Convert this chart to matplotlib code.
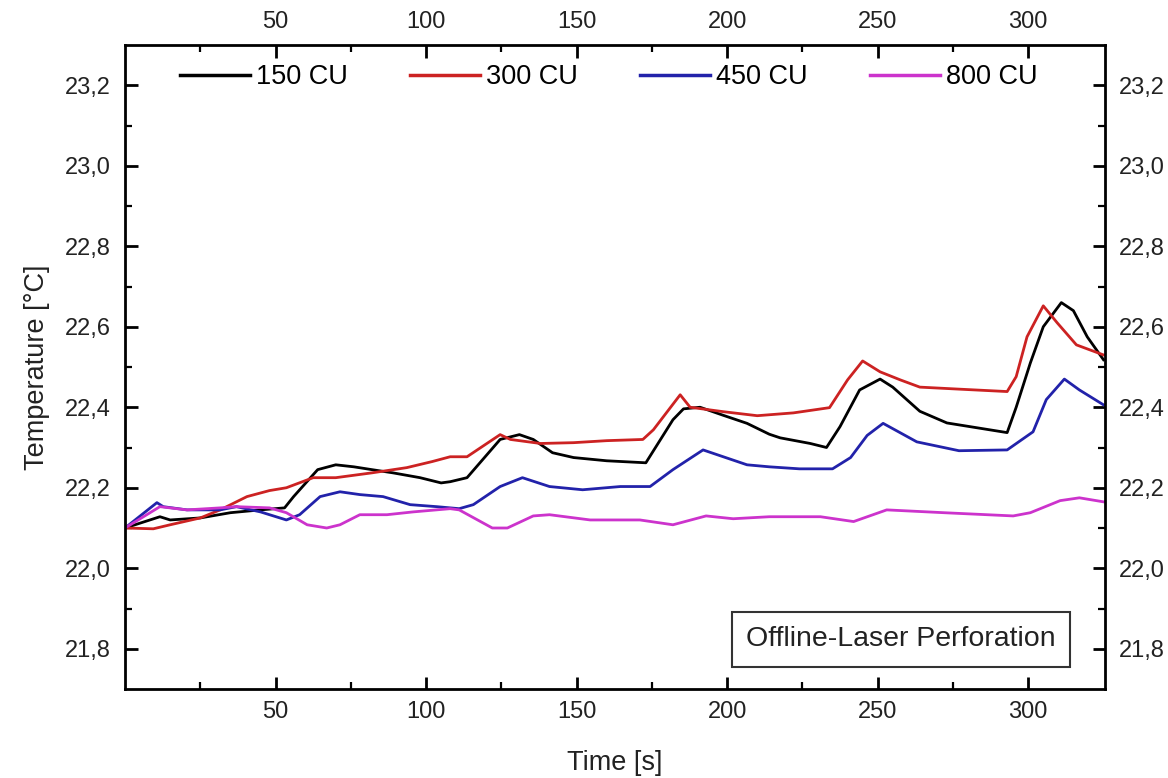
import matplotlib
matplotlib.use("Agg")
import matplotlib.pyplot as plt
from matplotlib.ticker import FixedLocator, FuncFormatter

plt.rcParams['font.family'] = ['Liberation Sans', 'DejaVu Sans']

# ---- data ----
labels = ["150 CU", "300 CU", "450 CU", "800 CU"]
colors = ["#000000", "#cc2222", "#2222aa", "#cc33cc"]

t_150 = [0, 11.6, 15, 25, 35, 45, 53, 56, 64, 70, 76, 82, 89, 98, 105, 108, 113.6,
         124.6, 131, 135.6, 142, 149, 160, 173, 182, 185.5, 191, 198.7, 206.6, 214,
         217.6, 227.6, 233, 237.5, 244, 250.8, 255, 264, 273, 283, 293, 296, 300.7,
         305, 311, 315, 319.6, 325]
T_150 = [22.10, 22.128, 22.12, 22.125, 22.138, 22.145, 22.15, 22.178, 22.245, 22.257,
         22.252, 22.245, 22.237, 22.225, 22.212, 22.215, 22.225, 22.32, 22.332, 22.32,
         22.287, 22.275, 22.267, 22.262, 22.369, 22.396, 22.40, 22.38, 22.36, 22.333,
         22.324, 22.31, 22.30, 22.352, 22.443, 22.47, 22.45, 22.39, 22.361, 22.349,
         22.337, 22.40, 22.51, 22.60, 22.66, 22.64, 22.575, 22.518]

t_300 = [0, 9.4, 15, 25, 31.6, 40.5, 48, 53.6, 62.5, 70, 82, 93.6, 102, 108, 113.6,
         124.6, 128, 138, 149, 160, 172, 175.5, 184.4, 187.7, 198.7, 210, 222, 234,
         240, 245, 250.8, 257.5, 264, 277, 293, 296, 299.6, 305, 309.6, 316, 325]
T_300 = [22.10, 22.098, 22.108, 22.125, 22.145, 22.178, 22.193, 22.20, 22.225, 22.225,
         22.237, 22.25, 22.265, 22.277, 22.277, 22.332, 22.32, 22.31, 22.312, 22.317,
         22.32, 22.344, 22.431, 22.40, 22.389, 22.379, 22.386, 22.399, 22.468, 22.515,
         22.488, 22.468, 22.45, 22.445, 22.439, 22.476, 22.575, 22.652, 22.61, 22.555,
         22.53]

t_450 = [0, 10.6, 12.7, 20.6, 31.6, 37, 45, 53.6, 58, 64.8, 71.4, 78, 85.7, 94.7,
         103.6, 111, 115.7, 124.6, 132, 141, 152, 164.5, 174.4, 182, 192, 198.7,
         206.6, 214, 224, 235, 241, 246.5, 251.8, 263, 277, 293, 301.6, 306, 312,
         317, 325]
T_450 = [22.10, 22.163, 22.153, 22.145, 22.145, 22.153, 22.14, 22.12, 22.133, 22.178,
         22.19, 22.183, 22.178, 22.158, 22.153, 22.148, 22.158, 22.203, 22.225, 22.203,
         22.195, 22.203, 22.203, 22.245, 22.294, 22.277, 22.257, 22.252, 22.247,
         22.247, 22.275, 22.33, 22.36, 22.314, 22.292, 22.294, 22.339, 22.419, 22.47,
         22.443, 22.406]

t_800 = [0, 11.6, 20.6, 31.6, 37, 48, 53.6, 60.5, 67, 71.4, 78, 87, 95.7, 108, 111,
         122, 127, 135.6, 141, 154.5, 171, 182, 193, 202, 214, 231, 242, 253, 272,
         295, 300.7, 310.6, 317, 325]
T_800 = [22.10, 22.153, 22.145, 22.15, 22.153, 22.15, 22.138, 22.108, 22.10, 22.108,
         22.133, 22.133, 22.14, 22.148, 22.145, 22.10, 22.10, 22.13, 22.133, 22.12,
         22.12, 22.108, 22.13, 22.123, 22.128, 22.128, 22.116, 22.145, 22.138, 22.13,
         22.138, 22.168, 22.175, 22.165]

x_major = [50, 100, 150, 200, 250, 300]
x_minor = [25, 75, 125, 175, 225, 275]
y_major = [21.8, 22.0, 22.2, 22.4, 22.6, 22.8, 23.0, 23.2]
y_minor = [21.9, 22.1, 22.3, 22.5, 22.7, 22.9, 23.1]

series_t = [t_150, t_300, t_450, t_800]
series_T = [T_150, T_300, T_450, T_800]

# ---- figure ----
fig = plt.figure(figsize=(11.68, 7.78), dpi=100)
W, H = 1168, 778
ax = fig.add_axes([125 / W, 1 - 689 / H, 980 / W, 644 / H])

for t, T, c, lab in zip(series_t, series_T, colors, labels):
    ax.plot(t, T, color=c, lw=2.0, label=lab)

ax.set_xlim(0, 325.5)
ax.set_ylim(21.7, 23.3)

ax.xaxis.set_major_locator(FixedLocator(x_major))
ax.xaxis.set_minor_locator(FixedLocator(x_minor))
ax.yaxis.set_major_locator(FixedLocator(y_major))
ax.yaxis.set_minor_locator(FixedLocator(y_minor))
ax.xaxis.set_major_formatter(FuncFormatter(lambda v, p: f"{v:g}"))
ax.yaxis.set_major_formatter(FuncFormatter(lambda v, p: f"{v:.1f}".replace('.', ',')))

for s in ax.spines.values():
    s.set_linewidth(2.0)

ax.tick_params(which='both', direction='in', top=True, right=True,
               labeltop=True, labelright=True, color='black')
ax.tick_params(which='major', length=9, width=2.0, labelsize=17, pad=9,
               labelcolor='#222222')
ax.tick_params(which='minor', length=5, width=1.6)
ax.tick_params(axis='y', which='major', pad=10)

ax.set_xlabel("Time [s]", fontsize=19.5, color='#222222', labelpad=19)
ax.set_ylabel("Temperature [°C]", fontsize=19.5, color='#222222', labelpad=11)

leg = ax.legend(loc='center left', bbox_to_anchor=(55 / 980, (689 - 77) / 644),
                ncol=4, frameon=False, fontsize=19.5, handlelength=2.6,
                handletextpad=0.2, columnspacing=2.3, borderpad=0, borderaxespad=0)
for line in leg.get_lines():
    line.set_linewidth(2.5)

ax.text((901 - 125) / 980, (689 - 639.5) / 644, "Offline-Laser Perforation",
        transform=ax.transAxes, ha='center', va='center', fontsize=20.5,
        color='#222222',
        bbox=dict(boxstyle='square,pad=0.5', facecolor='white', edgecolor='#333333',
                  linewidth=1.5))

fig.savefig("out.png", dpi=100)
